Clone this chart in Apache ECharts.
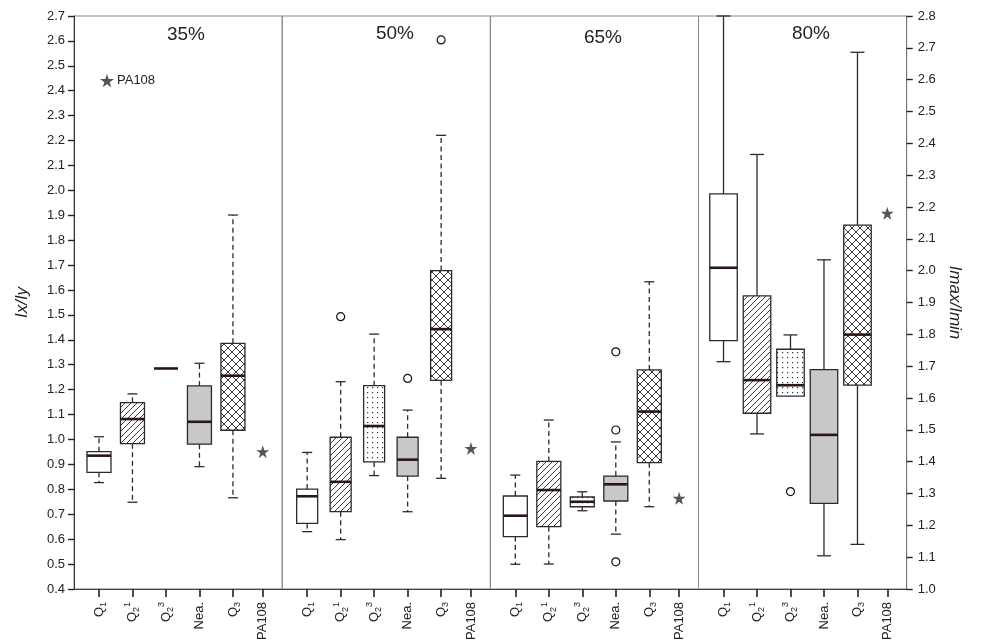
<!DOCTYPE html>
<html><head><meta charset="utf-8">
<script src="https://cdn.jsdelivr.net/npm/echarts@6/dist/echarts.min.js"></script>
<style>html,body{margin:0;padding:0;background:#fff}#c{width:1000px;height:643px}</style>
</head><body><div id="c"></div><script>
// ---------------- DATA ----------------
const panelNames = ['35%', '50%', '65%', '80%'];
const categories = ['Q₁', 'Q₂¹', 'Q₂³', 'Nea.', 'Q₃', 'PA108'];
// box statistics per category (Q1, Q2¹, Q2³, Nea., Q3): [min, q1, median, q3, max]
const box35 = [
  [0.827, 0.868, 0.935, 0.951, 1.011],
  [0.748, 0.983, 1.082, 1.148, 1.183],
  [1.285, 1.285, 1.285, 1.285, 1.285],
  [0.891, 0.981, 1.071, 1.215, 1.306],
  [0.766, 1.037, 1.256, 1.386, 1.901]
];
const box50 = [
  [0.630, 0.663, 0.772, 0.801, 0.948],
  [0.598, 0.710, 0.830, 1.009, 1.232],
  [0.855, 0.910, 1.054, 1.216, 1.423],
  [0.710, 0.853, 0.919, 1.009, 1.118],
  [0.844, 1.237, 1.443, 1.678, 2.221]
];
const box65 = [
  [0.499, 0.610, 0.694, 0.773, 0.857],
  [0.500, 0.650, 0.797, 0.912, 1.078],
  [0.714, 0.730, 0.750, 0.769, 0.790],
  [0.620, 0.753, 0.820, 0.853, 0.990],
  [0.730, 0.907, 1.112, 1.279, 1.633]
];
const box80 = [
  [1.714, 1.780, 2.009, 2.241, 2.800],
  [1.487, 1.552, 1.656, 1.921, 2.365],
  [1.606, 1.606, 1.640, 1.753, 1.798],
  [1.104, 1.269, 1.484, 1.689, 2.034],
  [1.140, 1.640, 1.799, 2.143, 2.686]
];
// outliers: [category index, value]
const outliers35 = [];
const outliers50 = [[1, 1.493], [3, 1.245], [4, 2.604]];
const outliers65 = [[3, 1.352], [3, 1.038], [3, 0.509]];
const outliers80 = [[2, 1.306]];
// PA108 reference value per panel
const pa108 = [0.951, 0.964, 0.764, 2.180];
// axes
const leftAxisName = 'Ix/Iy';
const rightAxisName = 'Imax/Imin';
const leftRange = [0.4, 2.7];
const rightRange = [1.0, 2.8];
const tickStep = 0.1;

// ---------------- LAYOUT / STYLE ----------------
const boxes = [box35, box50, box65, box80];
const outs = [outliers35, outliers50, outliers65, outliers80];
const catPos = [1, 2, 3, 4, 5, 5.89];
const xRange = [0.254, 6.47];
const plotLeft = 74, plotRight = 906.7, plotTop = 16, plotBottom = 589;
const pw = (plotRight - plotLeft) / 4;
const boxW = [24, 21, 24, 27.5];
const capW = [10, 10, 10, 14];
const dashedWhisker = [true, true, true, false];
const titlePos = [[186, 34.5], [395, 34], [603, 38], [811, 34]];
const FONT = '"Liberation Sans", Arial, Helvetica, sans-serif';
const starPath = 'path://M50,0 L61.2,34.5 L97.6,34.5 L68.2,55.9 L79.4,90.5 L50,69.1 L20.6,90.5 L31.8,55.9 L2.4,34.5 L38.8,34.5 Z';

function pattern(kind) {
  const c = document.createElement('canvas');
  const ctx = c.getContext('2d');
  if (kind === 'diag') {
    c.width = 6; c.height = 6;
    ctx.fillStyle = '#fff'; ctx.fillRect(0, 0, 6, 6);
    ctx.strokeStyle = '#222'; ctx.lineWidth = 0.9;
    ctx.beginPath();
    ctx.moveTo(0, 6); ctx.lineTo(6, 0);
    ctx.moveTo(-1, 1); ctx.lineTo(1, -1);
    ctx.moveTo(5, 7); ctx.lineTo(7, 5);
    ctx.stroke();
  } else if (kind === 'cross') {
    c.width = 8; c.height = 8;
    ctx.fillStyle = '#fff'; ctx.fillRect(0, 0, 8, 8);
    ctx.strokeStyle = '#222'; ctx.lineWidth = 0.9;
    ctx.beginPath();
    ctx.moveTo(0, 0); ctx.lineTo(8, 8);
    ctx.moveTo(8, 0); ctx.lineTo(0, 8);
    ctx.stroke();
  } else if (kind === 'dots') {
    c.width = 5; c.height = 5;
    ctx.fillStyle = '#fff'; ctx.fillRect(0, 0, 5, 5);
    ctx.fillStyle = '#333'; ctx.fillRect(2, 2, 1.2, 1.2);
  }
  return { image: c, repeat: 'repeat' };
}
const fills = ['#ffffff', pattern('diag'), pattern('dots'), '#c8c8c8', pattern('cross')];

function richLabel(s) {
  const sub = '₀₁₂₃₄₅₆₇₈₉', sup = { '¹': '1', '²': '2', '³': '3' };
  let out = '', buf = '';
  for (const ch of s) {
    const si = sub.indexOf(ch);
    if (si >= 0) { if (buf) { out += '{q|' + buf + '}'; buf = ''; } out += '{sb|' + si + '}'; }
    else if (sup[ch]) { if (buf) { out += '{q|' + buf + '}'; buf = ''; } out += '{sp|' + sup[ch] + '}'; }
    else buf += ch;
  }
  if (buf) out += '{q|' + buf + '}';
  return out;
}

function makeRender(p) {
  const bw = boxW[p], cw = capW[p], dashed = dashedWhisker[p];
  return function (params, api) {
    const x = api.value(0);
    const mn = api.value(1), q1 = api.value(2), md = api.value(3), q3 = api.value(4), mx = api.value(5);
    const k = api.value(6);
    const c = v => api.coord([x, v]);
    const pMin = c(mn), pQ1 = c(q1), pMd = c(md), pQ3 = c(q3), pMax = c(mx);
    const cx = pMd[0];
    const ws = { stroke: '#2b2b2b', lineWidth: 1.3 };
    if (dashed) ws.lineDash = [5, 3.5];
    const cs = { stroke: '#2b2b2b', lineWidth: 1.3 };
    const ch = [];
    if (mx > q3) {
      ch.push({ type: 'line', shape: { x1: cx, y1: pQ3[1], x2: cx, y2: pMax[1] }, style: ws });
      ch.push({ type: 'line', shape: { x1: cx - cw / 2, y1: pMax[1], x2: cx + cw / 2, y2: pMax[1] }, style: cs });
    }
    if (mn < q1) {
      ch.push({ type: 'line', shape: { x1: cx, y1: pQ1[1], x2: cx, y2: pMin[1] }, style: ws });
      ch.push({ type: 'line', shape: { x1: cx - cw / 2, y1: pMin[1], x2: cx + cw / 2, y2: pMin[1] }, style: cs });
    }
    if (q3 > q1) {
      ch.push({ type: 'rect', shape: { x: cx - bw / 2, y: pQ3[1], width: bw, height: pQ1[1] - pQ3[1] },
        style: { fill: fills[k], stroke: '#2b2b2b', lineWidth: 1.3 } });
    }
    ch.push({ type: 'line', shape: { x1: cx - bw / 2, y1: pMd[1], x2: cx + bw / 2, y2: pMd[1] },
      style: { stroke: '#2a1712', lineWidth: 2.6 } });
    return { type: 'group', children: ch };
  };
}

const grids = [], xAxes = [], yAxes = [], series = [];
for (let i = 0; i < 4; i++) {
  grids.push({ left: plotLeft + i * pw, top: plotTop, width: pw, height: plotBottom - plotTop,
    show: true, borderColor: '#8a8a8a', borderWidth: 1, backgroundColor: 'transparent' });
  xAxes.push({
    type: 'value', gridIndex: i, min: xRange[0], max: xRange[1],
    splitLine: { show: false },
    axisLine: { show: true, lineStyle: { color: '#444', width: 1 } },
    axisTick: { show: true, customValues: catPos, length: 8, lineStyle: { color: '#222', width: 1.6 } },
    axisLabel: {
      customValues: catPos, rotate: 90, margin: 13, color: '#222',
      formatter: function (v) {
        let best = 0;
        catPos.forEach((p, j) => { if (Math.abs(p - v) < Math.abs(catPos[best] - v)) best = j; });
        return richLabel(categories[best]);
      },
      rich: {
        q: { fontSize: 13, lineHeight: 18, color: '#222', fontFamily: FONT },
        sb: { fontSize: 9, lineHeight: 10, verticalAlign: 'bottom', color: '#222', fontFamily: FONT },
        sp: { fontSize: 9, lineHeight: 10, verticalAlign: 'top', color: '#222', fontFamily: FONT }
      }
    }
  });
  const right = i === 3;
  const rng = right ? rightRange : leftRange;
  const showAx = i === 0 || right;
  yAxes.push({
    type: 'value', gridIndex: i, position: right ? 'right' : 'left',
    min: rng[0], max: rng[1], interval: tickStep,
    splitLine: { show: false },
    axisLine: { show: showAx, lineStyle: { color: right ? '#777' : '#333', width: 1 } },
    axisTick: { show: showAx, length: 6, lineStyle: { color: '#222', width: 1.4 } },
    axisLabel: { show: showAx, formatter: v => v.toFixed(1), fontSize: 13, color: '#222',
      margin: right ? 11 : 9, fontFamily: FONT },
    name: i === 0 ? leftAxisName : (right ? rightAxisName : ''),
    nameLocation: 'middle', nameGap: right ? 40 : 43, nameRotate: right ? -90 : 90,
    nameTextStyle: { fontStyle: 'italic', fontSize: 17, color: '#222', fontFamily: FONT }
  });
  series.push({
    type: 'custom', xAxisIndex: i, yAxisIndex: i, renderItem: makeRender(i),
    encode: { x: 0, y: [1, 2, 3, 4, 5] },
    data: boxes[i].map((b, k) => [catPos[k], b[0], b[1], b[2], b[3], b[4], k]),
    z: 3, silent: true
  });
  series.push({
    type: 'scatter', xAxisIndex: i, yAxisIndex: i, symbol: 'circle', symbolSize: 8,
    itemStyle: { color: '#fff', borderColor: '#111', borderWidth: 1.2, opacity: 1 },
    data: outs[i].map(o => [catPos[o[0]], o[1]]), z: 4, silent: true
  });
  series.push({
    name: 'PA108', type: 'scatter', xAxisIndex: i, yAxisIndex: i, symbol: starPath, symbolSize: 13,
    itemStyle: { color: '#555', opacity: 1 }, data: [[catPos[5], pa108[i]]], z: 4, silent: true
  });
}

const chart = echarts.init(document.getElementById('c'));
chart.setOption({
  animation: false,
  backgroundColor: '#fff',
  textStyle: { fontFamily: FONT },
  grid: grids, xAxis: xAxes, yAxis: yAxes, series: series,
  legend: {
    data: [{ name: 'PA108', icon: starPath }], left: 100, top: 74, padding: 0,
    itemWidth: 14, itemHeight: 14, itemGap: 4, selectedMode: false,
    textStyle: { fontSize: 13, color: '#222', fontFamily: FONT, padding: [0, 0, 0, -2] }
  },
  graphic: panelNames.map((t, i) => ({
    type: 'text', x: titlePos[i][0], y: titlePos[i][1], silent: true,
    style: { text: t, fontSize: 19, fill: '#222', align: 'center', verticalAlign: 'middle', fontFamily: FONT }
  }))
});
</script></body></html>
